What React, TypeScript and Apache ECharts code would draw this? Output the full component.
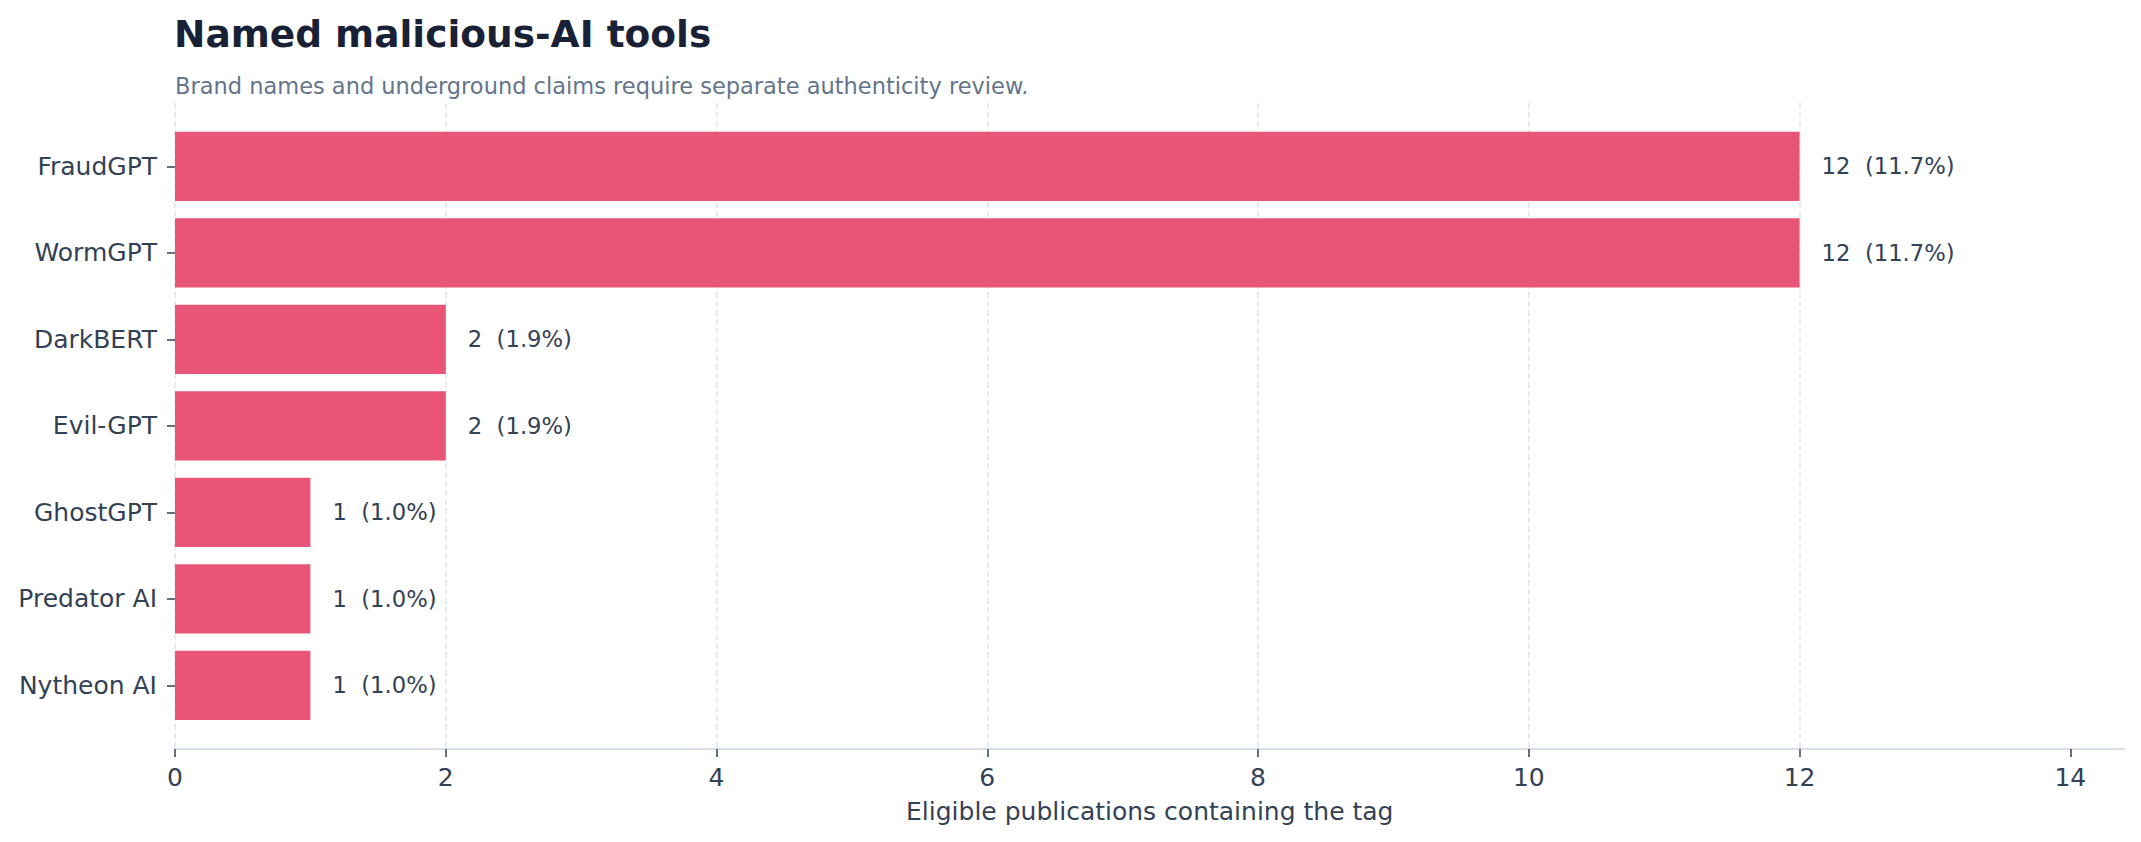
import React, { useEffect, useRef } from "react";
import * as echarts from "echarts";

const categories = ["FraudGPT", "WormGPT", "DarkBERT", "Evil-GPT", "GhostGPT", "Predator AI", "Nytheon AI"];
const counts = [12, 12, 2, 2, 1, 1, 1];
const percents = [11.7, 11.7, 1.9, 1.9, 1.0, 1.0, 1.0];
const xTicks = [0, 2, 4, 6, 8, 10, 12, 14];
const xMax = 14.4;

const TITLE = "Named malicious-AI tools";
const SUBTITLE = "Brand names and underground claims require separate authenticity review.";
const X_NAME = "Eligible publications containing the tag";

const FONT = "DejaVu Sans";
const TEXT = "#334155";

export default function App() {
  const ref = useRef<HTMLDivElement>(null);
  useEffect(() => {
    if (!ref.current) return;
    const chart = echarts.init(ref.current, undefined, { renderer: "svg" });
    const option: any = {
      animation: false,
      backgroundColor: "#ffffff",
      textStyle: { fontFamily: FONT },
      title: [
        {
          text: TITLE,
          left: 174,
          top: 15,
          padding: 0,
          textStyle: { fontFamily: FONT, fontSize: 37.5, fontWeight: "bold", color: "#182135" },
        },
        {
          text: SUBTITLE,
          left: 175,
          top: 74,
          padding: 0,
          textStyle: { fontFamily: FONT, fontSize: 22.5, fontWeight: "normal", color: "#64748b" },
        },
      ],
      grid: [
        { left: 175, right: 16.5, top: 103, bottom: 93 },
        { left: 175, right: 16.5, top: 123.1, bottom: 113.4 },
      ],
      xAxis: [
        {
          type: "value",
          gridIndex: 0,
          min: 0,
          max: xMax,
          interval: 2,
          name: X_NAME,
          nameLocation: "middle",
          nameGap: 50,
          nameTextStyle: { fontFamily: FONT, fontSize: 25, color: TEXT },
          axisLine: { show: true, lineStyle: { color: "#cbd5e1", width: 1.7 } },
          axisTick: { show: true, length: 8, customValues: xTicks, lineStyle: { color: TEXT, width: 1.5 } },
          axisLabel: {
            fontFamily: FONT,
            fontSize: 25,
            color: TEXT,
            margin: 16,
            customValues: xTicks,
          },
          splitLine: {
            show: true,
            showMaxLine: false,
            lineStyle: { color: "#e2e8f0", width: 1.6, type: [6, 3] },
          },
        },
        {
          type: "value",
          gridIndex: 1,
          min: 0,
          max: xMax,
          show: false,
          splitLine: { show: false },
        },
      ],
      yAxis: [
        { type: "value", gridIndex: 0, min: 0, max: 1, show: false, splitLine: { show: false } },
        {
          type: "category",
          gridIndex: 1,
          data: categories,
          inverse: true,
          axisLine: { show: false },
          axisTick: { show: true, alignWithLabel: true, length: 8, lineStyle: { color: TEXT, width: 1.5 } },
          axisLabel: { fontFamily: FONT, fontSize: 25, color: TEXT, margin: 18, padding: [4, 0, 0, 0] },
          splitLine: { show: false },
        },
      ],
      series: [
        {
          type: "bar",
          xAxisIndex: 1,
          yAxisIndex: 1,
          data: counts,
          barCategoryGap: "20%",
          itemStyle: { color: "#e85577" },
          label: {
            show: true,
            position: "right",
            distance: 22,
            fontFamily: FONT,
            fontSize: 22.7,
            color: TEXT,
            formatter: (p: any) => `${counts[p.dataIndex]}  (${percents[p.dataIndex].toFixed(1)}%)`,
          },
        },
      ],
    };
    chart.setOption(option);
    return () => chart.dispose();
  }, []);
  return (
    <div
      ref={ref}
      style={{ position: "absolute", left: 0, top: 0, width: 2141, height: 842 }}
    />
  );
}
